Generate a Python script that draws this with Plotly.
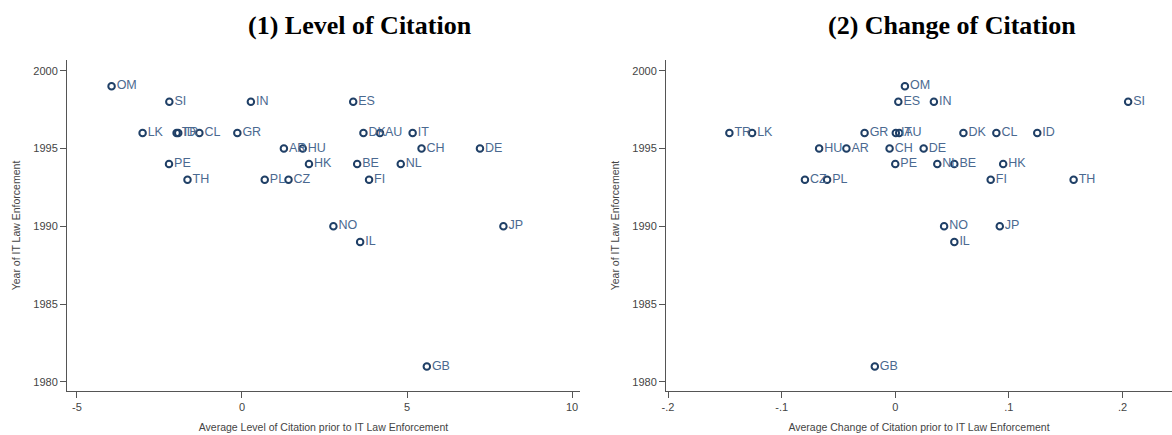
import plotly.graph_objects as go

# Country codes and the year each IT law came into force
countries = ["OM", "SI", "IN", "ES", "LK", "TR", "ID", "CL", "GR", "DK", "AU", "IT",
             "AR", "HU", "CH", "DE", "PE", "HK", "BE", "NL", "TH", "PL", "CZ", "FI",
             "NO", "JP", "IL", "GB"]
years = [1999, 1998, 1998, 1998, 1996, 1996, 1996, 1996, 1996, 1996, 1996, 1996,
         1995, 1995, 1995, 1995, 1994, 1994, 1994, 1994, 1993, 1993, 1993, 1993,
         1990, 1990, 1989, 1981]

# Average level of citation before enforcement
level_citation = [-3.95, -2.2, 0.27, 3.37, -3.01, -1.98, -1.93, -1.29, -0.14, 3.68, 4.18, 5.17,
                  1.27, 1.84, 5.44, 7.21, -2.21, 2.03, 3.49, 4.81, -1.65, 0.69, 1.41, 3.85,
                  2.77, 7.92, 3.58, 5.6]

# Average change of citation before enforcement
change_citation = [0.0085, 0.205, 0.034, 0.0027, -0.126, -0.146, 0.125, 0.089, -0.027, 0.060, 0.0035, 0.0005,
                   -0.043, -0.067, -0.005, 0.025, 0.0, 0.095, 0.052, 0.037, 0.157, -0.060, -0.0795, 0.084,
                   0.043, 0.092, 0.052, -0.018]

left_ticks = [-5, 0, 5, 10]
left_tick_text = ["-5", "0", "5", "10"]
right_ticks = [-0.2, -0.1, 0, 0.1, 0.2]
right_tick_text = ["-.2", "-.1", "0", ".1", ".2"]
year_ticks = [1980, 1985, 1990, 1995, 2000]

panel_titles = ["(1) Level of Citation", "(2) Change of Citation"]
x_titles = ["Average Level of Citation prior to IT Law Enforcement",
            "Average Change of Citation prior to IT Law Enforcement"]
y_title = "Year of IT Law Enforcement"

W, H = 1172, 435
MARKER_COLOR = "#1f3f66"
LABEL_COLOR = "#4a6990"
AXIS_COLOR = "#555555"
TEXT_FONT = "Liberation Sans, Arial"

fig = go.Figure()

for xs, xa, ya in [(level_citation, "x", "y"), (change_citation, "x2", "y2")]:
    fig.add_trace(go.Scatter(
        x=xs, y=years, text=countries,
        mode="markers+text", textposition="middle right",
        textfont=dict(family=TEXT_FONT, size=12.5, color=LABEL_COLOR),
        marker=dict(symbol="circle-open", size=6.5, color=MARKER_COLOR,
                    line=dict(width=2, color=MARKER_COLOR)),
        xaxis=xa, yaxis=ya, showlegend=False, cliponaxis=False,
    ))

ydom = [(H - 391) / H, (H - 60) / H]

axis_common = dict(
    showline=True, linecolor=AXIS_COLOR, linewidth=1,
    ticks="outside", ticklen=6, tickcolor=AXIS_COLOR, tickwidth=1,
    showgrid=False, zeroline=False, automargin=False,
    tickfont=dict(family=TEXT_FONT, size=11, color="#444444"),
)
title_font = dict(family=TEXT_FONT, size=10.5, color="#444444")

fig.update_layout(
    width=W, height=H,
    margin=dict(l=0, r=0, t=0, b=0),
    paper_bgcolor="white", plot_bgcolor="white",
    xaxis=dict(domain=[67 / W, 580 / W], range=[-5.3, 10.24], anchor="y",
               tickvals=left_ticks, ticktext=left_tick_text,
               title=dict(text=x_titles[0], standoff=11, font=title_font),
               **axis_common),
    yaxis=dict(domain=ydom, range=[1979.42, 2000.69], anchor="x",
               tickvals=year_ticks,
               title=dict(text=y_title, standoff=10, font=title_font),
               **axis_common),
    xaxis2=dict(domain=[666 / W, 1.0], range=[-0.2018, 0.2436], anchor="y2",
                tickvals=right_ticks, ticktext=right_tick_text,
                title=dict(text=x_titles[1], standoff=11, font=title_font),
                **axis_common),
    yaxis2=dict(domain=ydom, range=[1979.42, 2000.69], anchor="x2",
                tickvals=year_ticks,
                title=dict(text=y_title, standoff=10, font=title_font),
                **axis_common),
)

for title, cx in zip(panel_titles, [360, 952]):
    fig.add_annotation(
        text=f"<b>{title}</b>", xref="paper", yref="paper",
        x=cx / W, y=(H - 26) / H, xanchor="center", yanchor="middle",
        showarrow=False,
        font=dict(family="Liberation Serif, Times New Roman", size=26, color="black"),
    )

fig.write_html("out.html")
